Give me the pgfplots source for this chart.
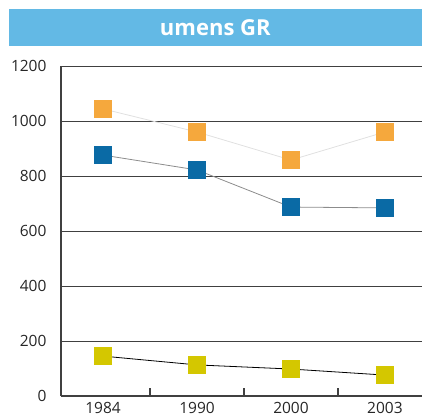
\documentclass[border=0pt]{standalone}
\usepackage{fontspec}
\setmainfont{Open Sans}
\usepackage{pgfplots}
\pgfplotsset{compat=1.18}

\definecolor{titlebar}{HTML}{63B9E5}
\definecolor{sorange}{HTML}{F5A83D}
\definecolor{sblue}{HTML}{0A6AA5}
\definecolor{syellow}{HTML}{D4C700}
\definecolor{axgray}{HTML}{404040}

\begin{document}
\begin{tikzpicture}[x=1pt,y=1pt]
\begin{axis}[
  name=ax,
  scale only axis,
  width=361pt, height=330pt,
  xmin=-0.447, xmax=3.394,
  ymin=0, ymax=1200,
  axis x line*=bottom,
  axis y line*=left,
  axis line style={axgray, line width=1.2pt},
  ytick={0,200,...,1200},
  ymajorgrids,
  grid style={axgray, line width=0.9pt},
  xtick={0,1,2,3},
  xticklabels={1984,1990,2000,2003},
  major x tick style={draw=none},
  minor xtick={0.5,1.5,2.5},
  minor tick length=8pt,
  minor x tick style={axgray, line width=1.2pt},
  major tick length=0pt,
  tick align=inside,
  ticklabel style={font=\fontsize{15.5}{18}\selectfont, text=black!85},
  yticklabel style={xshift=-11pt},
  xticklabel style={yshift=-3pt},
  /pgf/number format/assume math mode=true,
  /pgf/number format/1000 sep={},
  clip=false,
  every axis plot/.append style={mark=square*, mark size=8.5pt},
]
\addplot[color=black!12, line width=0.8pt, mark options={solid, draw=sorange, fill=sorange}]
  coordinates {(0,1044) (1,960) (2,858) (3,960)};
\addplot[color=black!45, line width=0.8pt, mark options={solid, draw=sblue, fill=sblue}]
  coordinates {(0,876) (1,822) (2,687) (3,684)};
\addplot[color=black, line width=0.8pt, mark options={solid, draw=syellow, fill=syellow}]
  coordinates {(0,145) (1,113) (2,98) (3,76)};
\end{axis}
\node[fill=titlebar, text=white, minimum width=413pt, minimum height=37pt,
      inner sep=0pt, anchor=south east,
      font=\fontsize{22}{26}\selectfont\bfseries]
  at ([yshift=20pt]ax.north east) {umens GR};
\pgfresetboundingbox
\path ([xshift=-61pt,yshift=-23pt]ax.south west) rectangle ([yshift=66pt]ax.north east);
\end{tikzpicture}
\end{document}
